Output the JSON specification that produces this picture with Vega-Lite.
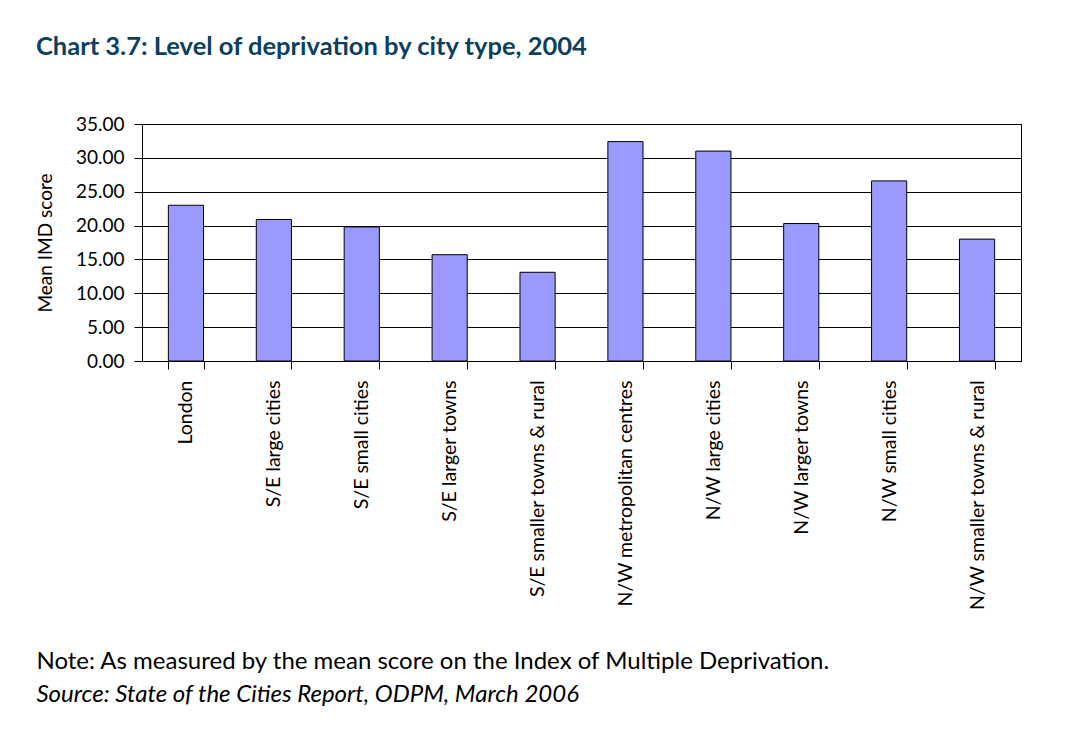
{
  "$schema": "https://vega.github.io/schema/vega-lite/v6.json",
  "padding": {"left": 35, "top": 35, "right": 40, "bottom": 10},
  "background": "white",
  "title": {
    "text": "Chart 3.7: Level of deprivation by city type, 2004",
    "anchor": "start",
    "font": "Lato",
    "fontSize": 25.5,
    "fontWeight": "bold",
    "color": "#0D3F5E",
    "offset": 54
  },
  "vconcat": [
    {
      "width": 879,
      "height": 237,
      "title": {
        "text": "Note: As measured by the mean score on the Index of Multiple Deprivation.",
        "subtitle": "Source: State of the Cities Report, ODPM, March 2006",
        "orient": "bottom",
        "anchor": "start",
        "font": "Lato",
        "fontSize": 24,
        "fontWeight": "normal",
        "color": "black",
        "subtitleFont": "Lato",
        "subtitleFontSize": 24,
        "subtitleFontStyle": "italic",
        "subtitleColor": "black",
        "subtitlePadding": 9,
        "offset": 40
      },
      "data": {
        "values": [
          {"type": "London", "score": 23.0},
          {"type": "S/E large cities", "score": 20.9},
          {"type": "S/E small cities", "score": 19.8},
          {"type": "S/E larger towns", "score": 15.7},
          {"type": "S/E smaller towns & rural", "score": 13.1},
          {"type": "N/W metropolitan centres", "score": 32.4},
          {"type": "N/W large cities", "score": 31.0},
          {"type": "N/W larger towns", "score": 20.3},
          {"type": "N/W small cities", "score": 26.6},
          {"type": "N/W smaller towns & rural", "score": 18.0}
        ]
      },
      "mark": {"type": "bar", "color": "#9999FF", "stroke": "black", "strokeWidth": 1},
      "encoding": {
        "x": {
          "field": "type",
          "type": "nominal",
          "sort": null,
          "scale": {"paddingInner": 0.6, "paddingOuter": 0.3},
          "axis": {
            "title": null,
            "labelAngle": -90,
            "labelFont": "Lato",
            "labelFontSize": 19.5,
            "labelColor": "black",
            "labelPadding": 11,
            "labelLimit": 0,
            "tickBand": "extent",
            "tickSize": 8,
            "tickColor": "black",
            "domainColor": "black",
            "grid": false
          }
        },
        "y": {
          "field": "score",
          "type": "quantitative",
          "scale": {"domain": [0, 35], "nice": false},
          "axis": {
            "title": "Mean IMD score",
            "values": [0, 5, 10, 15, 20, 25, 30, 35],
            "format": ".2f",
            "labelFont": "Lato",
            "labelFontSize": 19,
            "labelColor": "black",
            "labelPadding": 10,
            "tickSize": 8,
            "tickColor": "black",
            "domainColor": "black",
            "titleFont": "Lato",
            "titleFontSize": 19,
            "titleFontWeight": "normal",
            "titleColor": "black",
            "titlePadding": 20,
            "grid": true,
            "gridColor": "black",
            "gridOpacity": 1
          }
        }
      }
    }
  ],
  "config": {"view": {"stroke": "black", "strokeWidth": 1}}
}
